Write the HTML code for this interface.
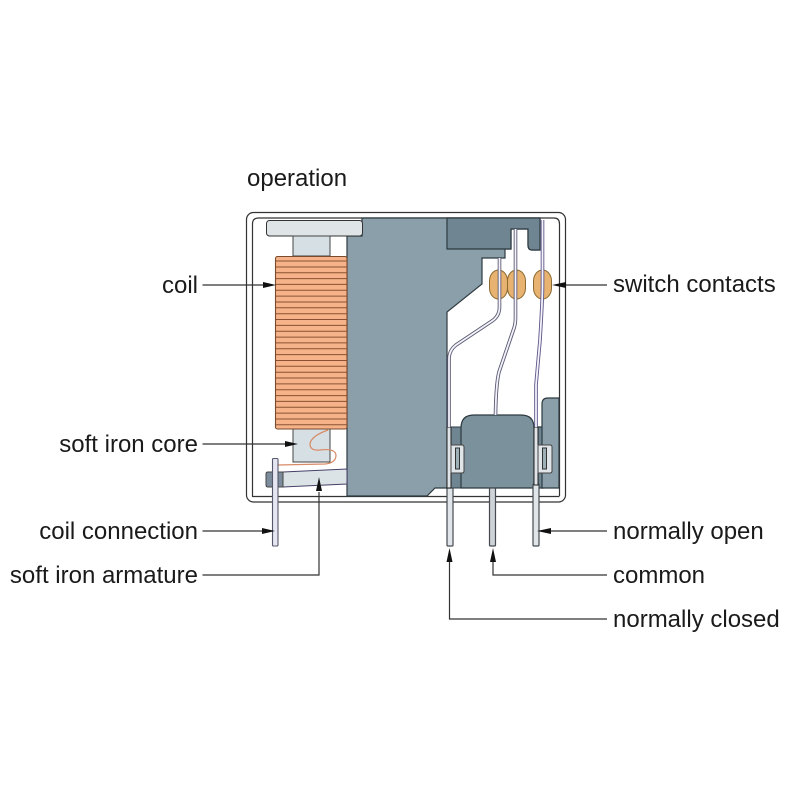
<!DOCTYPE html>
<html><head><meta charset="utf-8"><style>
html,body{margin:0;padding:0;background:#fff;width:800px;height:800px;overflow:hidden}
svg{display:block}
text{font-family:"Liberation Sans",Arial,sans-serif;font-size:24px;fill:#1a1a1a}
.l{fill:none;stroke:#333;stroke-width:1.2}
.o{stroke:#2e3a40;stroke-width:1.2}
.pin{fill:#dfe5e8;stroke:#444a50;stroke-width:1.2}
.sp{fill:none;stroke:#5a5a72;stroke-width:3.6}
.sp2{fill:none;stroke:#f4f2fa;stroke-width:1.8}
.c{fill:#e8b270;stroke:#8b6a30;stroke-width:1}
.w{stroke:#8a5232;stroke-width:1;fill:none}
</style></head><body>
<svg width="800" height="800" viewBox="0 0 800 800" xmlns="http://www.w3.org/2000/svg">
<rect width="800" height="800" fill="#fff"/>
<rect x="246.500" y="212.500" width="319" height="289.500" rx="7" fill="#fff" stroke="#333" stroke-width="1.200"/>
<path d="M252.500 497V224q0-6 6-6H554q5.500 0 5.500 6V496" fill="none" stroke="#333" stroke-width="1.200"/>
<path d="M252.500 496.500H559.500" stroke="#333" stroke-width="1.200"/>

<path class="o" d="M347 496V236H362V218H540V250H532Q528 250 528 245V229H511V249H505V258H482V284L447 312V488H435L427 496Z" fill="#8a9fa9"/>
<path class="o" d="M447 218H540V250H532Q528 250 528 245V229H511V249H447Z" fill="#6f8591"/>

<rect x="266.500" y="220.500" width="96" height="15.500" rx="3" fill="#dfe4e7" stroke="#333" stroke-width="1"/>
<rect x="293" y="236" width="37" height="20" fill="#d6dfe3" stroke="#444" stroke-width="1"/>
<rect x="293" y="429" width="37" height="33" fill="#d6dfe3" stroke="#444" stroke-width="1"/>

<rect x="275.500" y="256.500" width="71.500" height="172.500" rx="2" fill="#f6b288" stroke="#7a4a2c" stroke-width="1.100"/>
<path class="w" d="M276 261H347M276 267H347M276 272.700H347M276 278.600H347M276 284.400H347M276 290.300H347M276 296.100H347M276 302H347M276 307.800H347M276 313.700H347M276 319.500H347M276 325.400H347M276 331.200H347M276 337.100H347M276 342.900H347M276 348.800H347M276 354.600H347M276 360.500H347M276 366.300H347M276 372.200H347M276 378H347M276 383.900H347M276 389.700H347M276 395.600H347M276 401.400H347M276 407.300H347M276 413.100H347M276 419H347M276 424.800H347"/>

<path d="M328 430Q311 436 310 444Q310 451 320 450Q335 448 336 455Q336 463 325 464L278 465" fill="none" stroke="#d98a66" stroke-width="1.200"/>

<path d="M283 472L347 469V484L283 487Z" fill="#dce3e6" stroke="#443f66" stroke-width="1"/>
<path d="M266 474Q266 472 268 472H283V487H268Q266 487 266 485Z" fill="#7d8c9c" stroke="#444" stroke-width="1"/>
<rect x="272.500" y="458.500" width="5.500" height="87.500" rx="1" fill="#e6e6f2" stroke="#55586a" stroke-width="1.100"/>

<rect x="451" y="427" width="11" height="61" fill="#6f8591" stroke="#2e3a40" stroke-width="1"/>
<path class="o" d="M538 427H543V488H538Z" fill="#6f8591"/>
<path class="o" d="M542 488V404Q542 398 548 398H559V488Z" fill="#8a9fa9"/>
<path class="o" d="M461 488V428Q461 415 474 415H521Q534 415 534 428V488Z" fill="#7b919b"/>

<rect x="447" y="488" width="6" height="58" rx="1" class="pin"/>
<rect x="489.500" y="488" width="6" height="58" rx="1" class="pin" style="fill:#cdd3d6"/>
<rect x="533" y="484" width="6" height="62" rx="1" class="pin"/>
<rect x="447" y="427" width="4" height="61" fill="#dfe5e8" stroke="#222" stroke-width="1"/>
<rect x="534" y="427" width="4" height="58" fill="#dfe5e8" stroke="#222" stroke-width="1"/>

<path d="M451 445H462Q464 445 464 447V471Q464 473 462 473H451Z" fill="#dfe5e8" stroke="#444" stroke-width="1"/>
<rect x="455.500" y="448" width="4" height="21" fill="#9db0b8" stroke="#333" stroke-width="1"/>
<path d="M538 445H550Q552 445 552 447V471Q552 473 550 473H538Z" fill="#dfe5e8" stroke="#444" stroke-width="1"/>
<rect x="542.500" y="448" width="4" height="21" fill="#9db0b8" stroke="#333" stroke-width="1"/>

<rect class="c" x="489.500" y="270" width="18" height="29" rx="9" ry="11"/>
<rect class="c" x="507.500" y="270" width="18" height="29" rx="9" ry="11"/>
<rect class="c" x="533.500" y="270" width="18" height="29" rx="9" ry="11"/>

<path class="sp" d="M499.500 258V307Q499.500 316 492 321L456 345Q449.500 350 449 358V427"/>
<path class="sp2" d="M499.500 258V307Q499.500 316 492 321L456 345Q449.500 350 449 358V427"/>
<path class="sp" d="M515.500 229V318Q515.500 325 513 331L499 372Q496 384 495.500 415"/>
<path class="sp2" d="M515.500 229V318Q515.500 325 513 331L499 372Q496 384 495.500 415"/>
<path class="sp" d="M542.500 220V285Q542.500 300 540 340L536 385V427" style="stroke:#5d5688"/>
<path class="sp2" d="M542.500 220V285Q542.500 300 540 340L536 385V427"/>

<path class="l" d="M202.500 285H265M202.500 444H287M202.500 531H265M202.500 575H319V492M607 285H565M607 531H550M607 575H493V560M607 619H449.500V560"/>
<path fill="#111" d="M263 282L276 285L263 288ZM285 441L298 444L285 447ZM262 528L275 531L262 534ZM316 491L319 477L322 491ZM566 282L552 285L566 288ZM551 528L537 531L551 534ZM490 562L493 548L496 562ZM446.500 562L449.500 548L452.500 562Z"/>

<text x="247" y="186">operation</text>
<text x="198" y="293" text-anchor="end">coil</text>
<text x="198" y="452" text-anchor="end">soft iron core</text>
<text x="198" y="539" text-anchor="end">coil connection</text>
<text x="198" y="583" text-anchor="end">soft iron armature</text>
<text x="613" y="292">switch contacts</text>
<text x="613" y="539">normally open</text>
<text x="613" y="583">common</text>
<text x="613" y="627">normally closed</text>
</svg>
</body></html>
